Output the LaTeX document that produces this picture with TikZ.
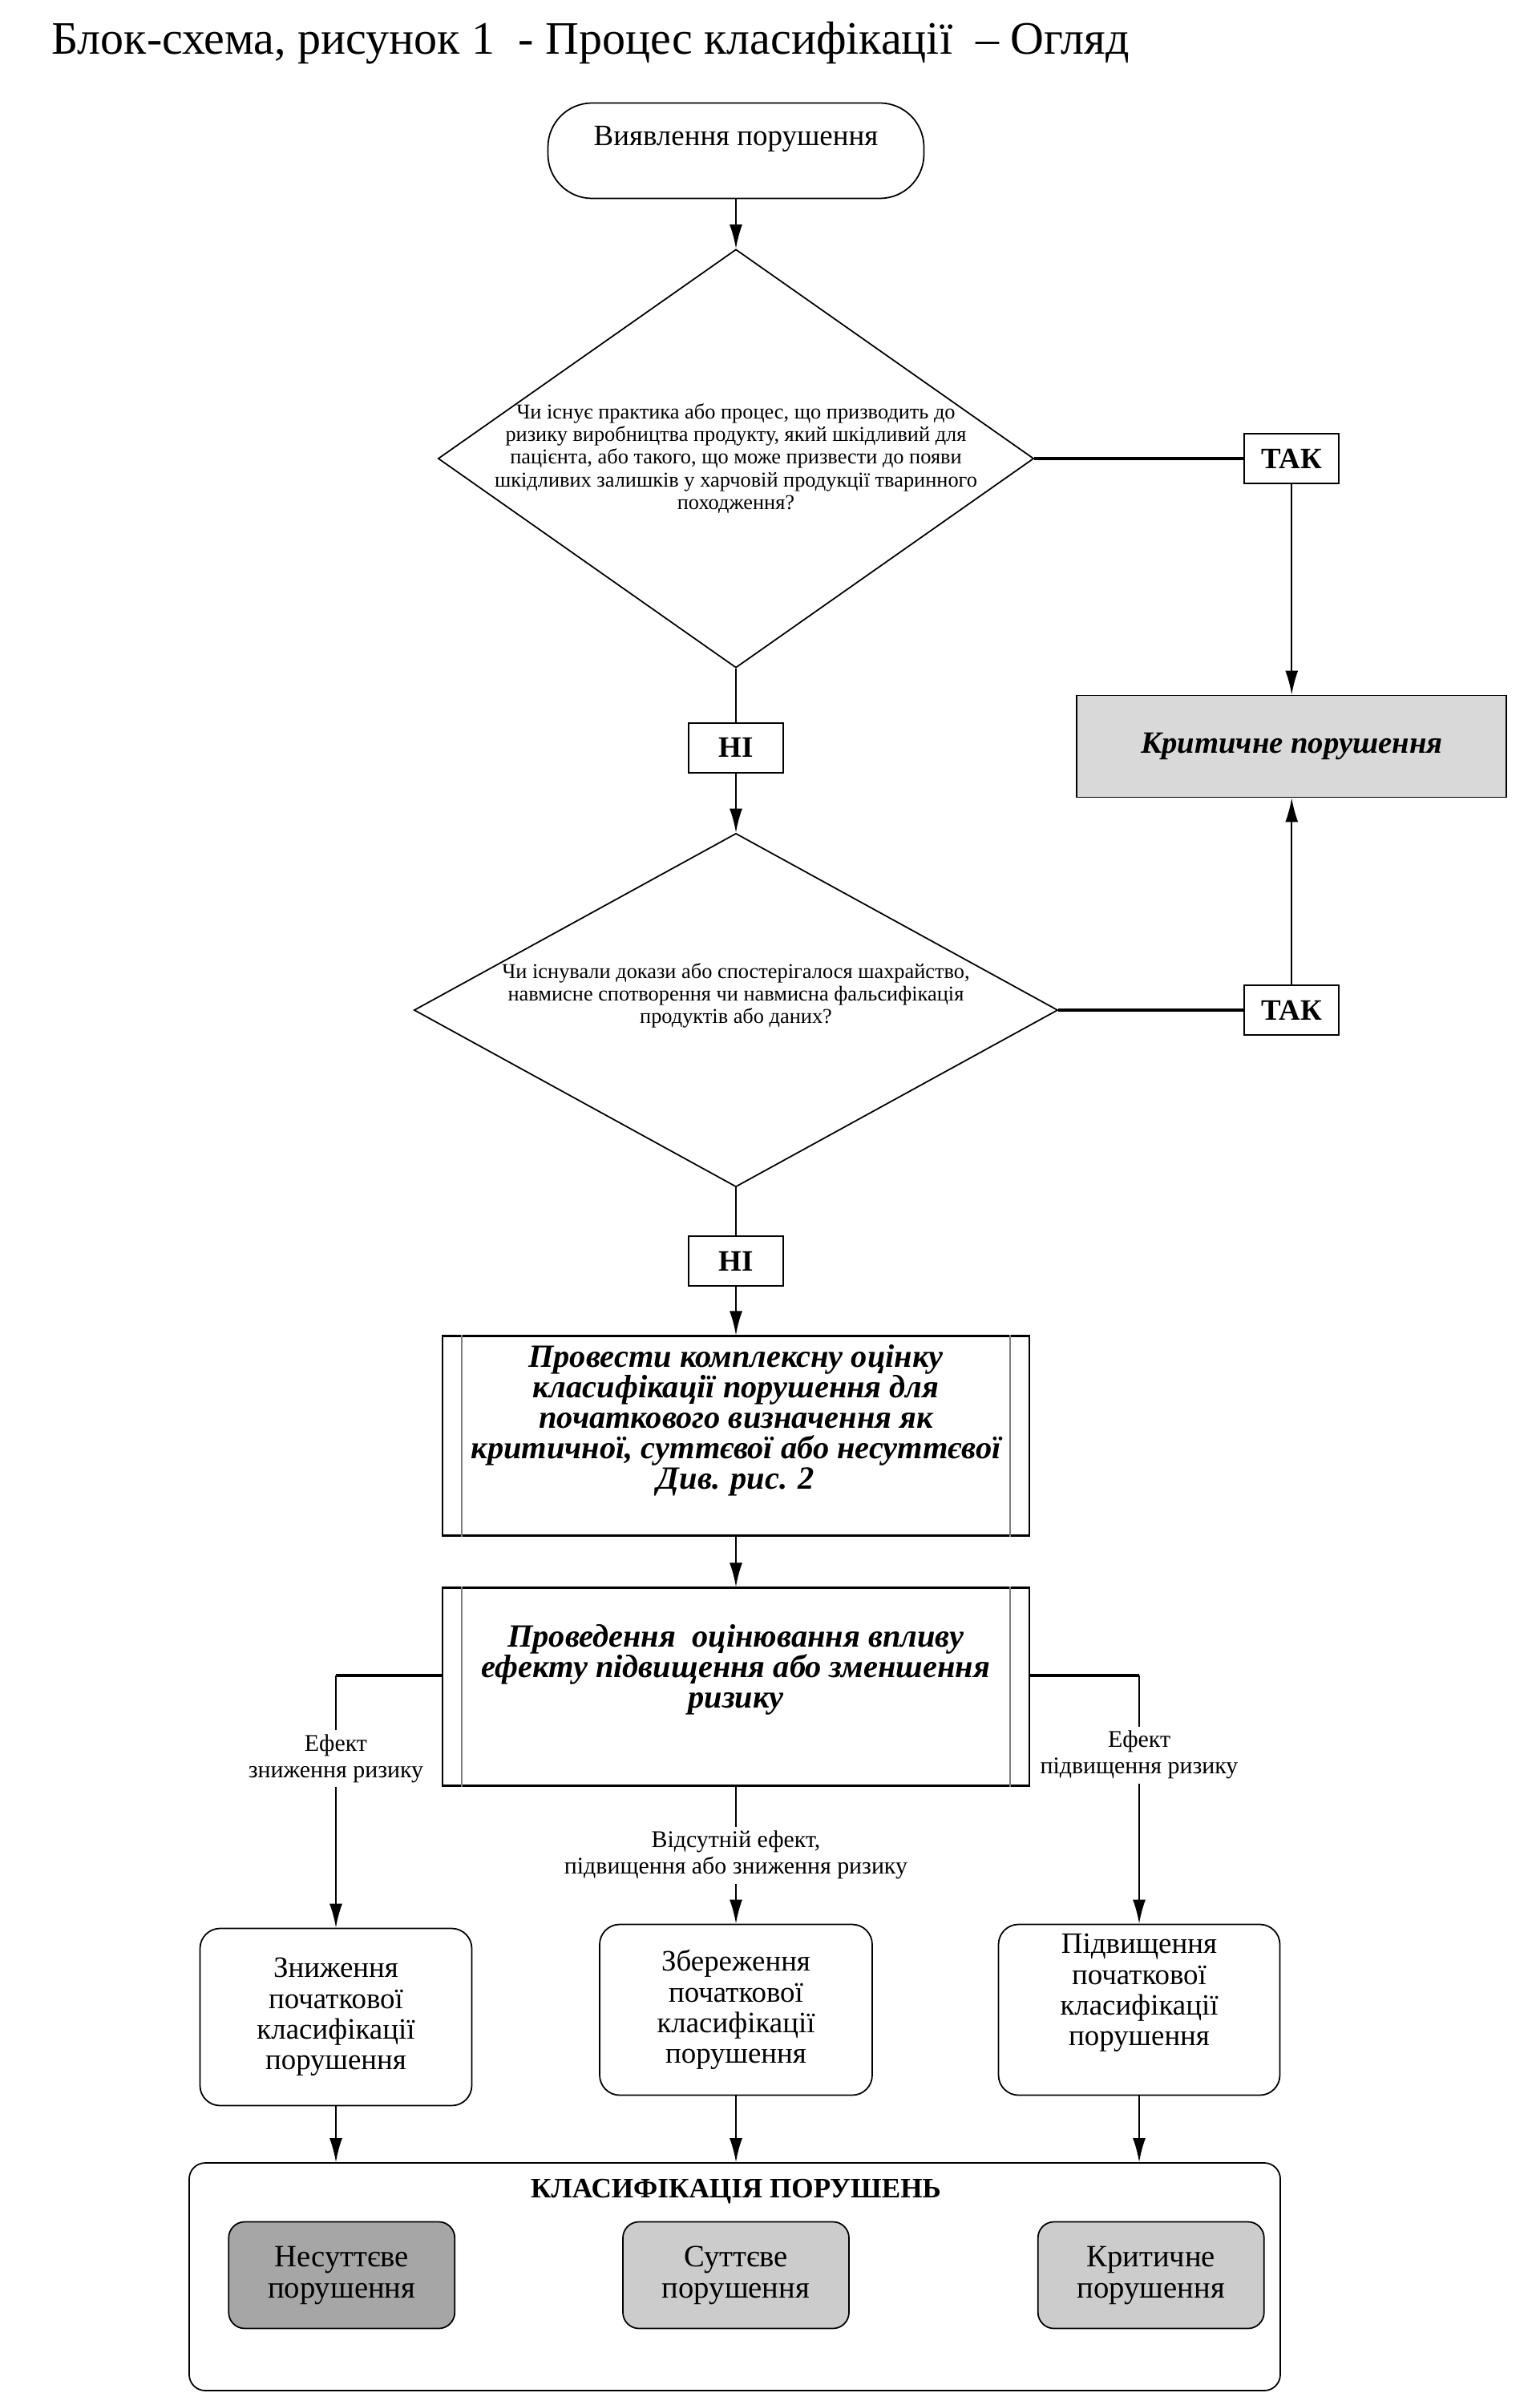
\documentclass[tikz,border=0pt]{standalone}
\usepackage{fontspec}
\setmainfont{Liberation Serif}
\usetikzlibrary{shapes.geometric,arrows.meta,positioning}

\begin{document}
\begin{tikzpicture}[
		flow/.style={draw,line width=0.6pt,-{Latex[length=3mm,width=1.6mm]}},
		link/.style={draw,line width=1.2pt},
		decision/.style={diamond,draw,line width=0.5pt,inner sep=0pt},
		qtext/.style={align=center,font=\fontsize{7.5}{8}\selectfont},
		answer/.style={draw,line width=0.5pt,minimum width=1.18cm,minimum height=0.62cm,inner sep=0pt,font=\bfseries\fontsize{10.5}{12}\selectfont},
		process/.style={draw,line width=0.6pt,minimum width=7.32cm,inner sep=0pt},
		ptext/.style={align=center,font=\bfseries\itshape\fontsize{11.5}{10.8}\selectfont},
		effect/.style={fill=white,align=center,inner sep=1.5pt,font=\fontsize{8.5}{9.5}\selectfont},
		outcome/.style={draw,line width=0.5pt,rounded corners=0.25cm,inner sep=0pt,align=center,font=\fontsize{10.5}{10.9}\selectfont},
		level/.style={draw,line width=0.5pt,rounded corners=0.2cm,minimum width=2.82cm,minimum height=1.33cm,inner sep=0pt,align=center,font=\fontsize{11}{11.1}\selectfont}
	]
		\useasboundingbox (0,0) rectangle (19.2,-30);
		\node (title) [anchor=base west,font=\fontsize{16.5}{20}\selectfont] at (0.52,-0.68) {Блок-схема, рисунок 1\ \ - Процес класифікації\ \ – Огляд};

		% main column
		\node (start) [draw,line width=0.5pt,rounded corners=0.55cm,minimum width=4.69cm,minimum height=1.19cm,
			label={[yshift=1.5mm,font=\fontsize{10.5}{12}\selectfont]center:Виявлення порушення}] at (9.18,-1.88) {};
		\node (q1) [decision,minimum width=7.43cm,minimum height=5.22cm,
			label={[qtext]center:Чи існує практика або процес, що призводить до\\ризику виробництва продукту, який шкідливий для\\пацієнта, або такого, що може призвести до появи\\шкідливих залишків у харчовій продукції тваринного\\походження?}] at (9.18,-5.72) {};
		\node (yes1) [answer,right=2.61cm of q1] {ТАК};
		\node (crit) [draw,line width=0.5pt,fill=gray!30,minimum width=5.36cm,minimum height=1.27cm,
			font=\bfseries\itshape\fontsize{11}{13}\selectfont] at (yes1 |- 0,-9.31) {Критичне порушення};
		\node (no1) [answer,below=0.67cm of q1] {НІ};
		\node (q2) [decision,minimum width=8.03cm,minimum height=4.41cm,
			label={[qtext,yshift=1.8mm]center:Чи існували докази або спостерігалося шахрайство,\\навмисне спотворення чи навмисна фальсифікація\\продуктів або даних?}] at (9.18,-12.60) {};
		\node (yes2) [answer] at (yes1 |- q2) {ТАК};
		\node (no2) [answer,below=0.60cm of q2] {НІ};
		\node (proc1) [process,minimum height=2.49cm,
			label={[ptext,yshift=1.9mm]center:Провести комплексну оцінку\\класифікації порушення для\\початкового визначення як\\критичної, суттєвої або несуттєвої\\Див. рис. 2}] at (9.18,-17.91) {};
		\node (proc2) [process,minimum height=2.47cm,
			label={[ptext,yshift=2.1mm]center:Проведення\ \ оцінювання впливу\\ефекту підвищення або зменшення\\ризику}] at (9.18,-21.04) {};
		\foreach \p in {proc1,proc2}
			\draw[line width=0.4pt,gray] ([xshift=2.5mm]\p.north west) -- ([xshift=2.5mm]\p.south west)
				([xshift=-2.5mm]\p.north east) -- ([xshift=-2.5mm]\p.south east);

		% outcomes
		\node (down) [outcome,minimum width=3.39cm,minimum height=2.21cm] at (4.19,-25.16) {Зниження\\початкової\\класифікації\\порушення};
		\node (keep) [outcome,minimum width=3.40cm,minimum height=2.13cm] at (9.18,-25.07) {Збереження\\початкової\\класифікації\\порушення};
		\node (up) [outcome,minimum width=3.51cm,minimum height=2.13cm,
			label={[align=center,yshift=2.1mm,font=\fontsize{10.5}{10.9}\selectfont]center:Підвищення\\початкової\\класифікації\\порушення}] at (14.21,-25.07) {};

		% classification
		\node (cls) [draw,line width=0.5pt,rounded corners=0.2cm,minimum width=13.61cm,minimum height=2.84cm] at (9.165,-28.40) {};
		\node (clstitle) [font=\bfseries\fontsize{10}{12}\selectfont] at (9.18,-27.34) {КЛАСИФІКАЦІЯ ПОРУШЕНЬ};
		\node (major) [level,fill=gray!40] at (9.18,-28.38) {Суттєве\\порушення};
		\node (minor) [level,fill=gray!70,left=2.08cm of major] {Несуттєве\\порушення};
		\node (critical) [level,fill=gray!40,right=2.34cm of major] {Критичне\\порушення};

		% connectors
		\draw[flow] (start.south) -- (q1.north);
		\draw[link] (q1.east) -- (yes1.west);
		\draw[flow] (yes1.south) -- (crit.north);
		\draw[line width=0.6pt] (q1.south) -- (no1.north);
		\draw[flow] (no1.south) -- (q2.north);
		\draw[link] (q2.east) -- (yes2.west);
		\draw[flow] (yes2.north) -- (crit.south);
		\draw[line width=0.6pt] (q2.south) -- (no2.north);
		\draw[flow] (no2.south) -- (proc1.north);
		\draw[flow] (proc1.south) -- (proc2.north);

		\coordinate (lturn) at ([yshift=1.4mm]proc2.west -| down.north);
		\coordinate (rturn) at ([yshift=1.4mm]proc2.east -| up.north);
		\draw[link] ([yshift=1.4mm]proc2.west) -- (lturn);
		\draw[flow] (lturn) -- node[effect,pos=0.33] {Ефект\\зниження ризику} (down.north);
		\draw[link] ([yshift=1.4mm]proc2.east) -- (rturn);
		\draw[flow] (rturn) -- node[effect,pos=0.32] {Ефект\\підвищення ризику} (up.north);
		\draw[flow] (proc2.south) -- node[effect,pos=0.5] {Відсутній ефект,\\підвищення або зниження ризику} (keep.north);

		\foreach \b in {down,keep,up}
			\draw[flow] (\b.south) -- (\b.south |- cls.north);
	\end{tikzpicture}
\end{document}
